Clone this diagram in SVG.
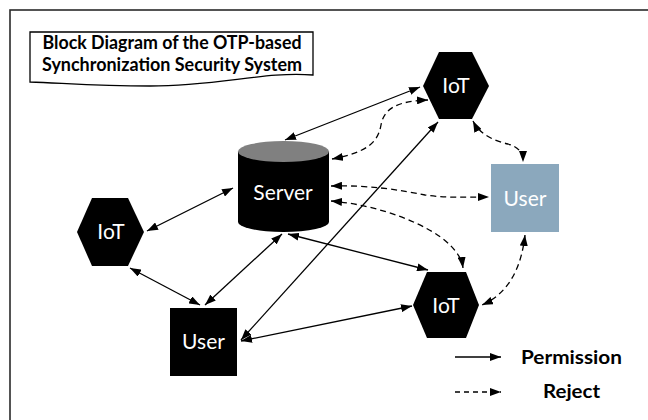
<svg xmlns="http://www.w3.org/2000/svg" width="648" height="420" viewBox="0 0 648 420">
  <defs>
    <marker id="arrow" viewBox="0 0 11 8" refX="11" refY="4" markerWidth="11" markerHeight="8" markerUnits="userSpaceOnUse" orient="auto-start-reverse">
      <path d="M0,0 L11,4 L0,8 Z" fill="#000"/>
    </marker>
    <style>
      .frame { fill: #fff; stroke: #2a2a2a; stroke-width: 1.6; }
      .doc { fill: #fff; stroke: #000; stroke-width: 1.3; }
      .title { font-family: Lato, "Liberation Sans", sans-serif; font-weight: bold; font-size: 19px; fill: #000; text-anchor: middle; }
      .hex { fill: #000; }
      .lbl { font-family: Lato, "Liberation Sans", sans-serif; font-size: 21px; fill: #fff; text-anchor: middle; }
      .solid { fill: none; stroke: #000; stroke-width: 1.3; marker-start: url(#arrow); marker-end: url(#arrow); }
      .dash { fill: none; stroke: #000; stroke-width: 1.3; stroke-dasharray: 6 4; marker-start: url(#arrow); marker-end: url(#arrow); }
      .legend { font-family: Lato, "Liberation Sans", sans-serif; font-weight: bold; font-size: 19px; fill: #000; }
    </style>
  </defs>

  <!-- outer frame -->
  <rect class="frame" x="10" y="10" width="700" height="500"/>

  <!-- title document shape -->
  <g id="title">
    <path class="doc" d="M30,32 H313 V75 C265,71 220,86 150,86 C95,86 62,83 30,82 Z"/>
    <text class="title" x="172" y="49" textLength="259" lengthAdjust="spacingAndGlyphs">Block Diagram of the OTP-based</text>
    <text class="title" x="172" y="71" textLength="260" lengthAdjust="spacingAndGlyphs">Synchronization Security System</text>
  </g>

  <!-- connectors -->
  <g id="connectors">
    <line class="solid" x1="285" y1="140" x2="420" y2="87"/>
    <path class="dash" d="M332,159 C368,152 378,142 381,125 C384,108 398,101 428,100"/>
    <line class="solid" x1="438" y1="122" x2="241" y2="340"/>
    <path class="dash" d="M473,121 C480,135 495,141 508,144 C518,147 523,152 523,162"/>
    <path class="dash" d="M331,186 C370,185 400,190 425,195 C445,198 465,197 489,197"/>
    <path class="dash" d="M331,201 C380,205 430,225 450,245 C458,253 462,260 463,268"/>
    <path class="dash" d="M525,235 C522,262 512,292 482,305"/>
    <line class="solid" x1="288" y1="234" x2="428" y2="270"/>
    <line class="solid" x1="412" y1="306" x2="241" y2="341"/>
    <line class="solid" x1="147" y1="231" x2="233" y2="188"/>
    <line class="solid" x1="130" y1="268" x2="200" y2="305"/>
    <line class="solid" x1="282" y1="234" x2="205" y2="305"/>
  </g>

  <!-- server cylinder -->
  <g id="server">
    <path d="M238,151.5 V222 A45.5,10 0 0 0 329,222 V151.5 Z" fill="#000"/>
    <ellipse cx="283.5" cy="151.5" rx="45.5" ry="10.5" fill="#808080"/>
    <text class="lbl" x="283" y="200">Server</text>
  </g>

  <g id="iot-top">
    <polygon class="hex" points="423,86 439,52 472,52 489,86 472,119 439,119"/>
    <text class="lbl" x="456" y="93">IoT</text>
  </g>

  <g id="iot-left">
    <polygon class="hex" points="77,232 92,198 128,198 144,232 128,266 92,266"/>
    <text class="lbl" x="111" y="239">IoT</text>
  </g>

  <g id="iot-bottom">
    <polygon class="hex" points="413,305 427,272 466,272 479,305 466,338 427,338"/>
    <text class="lbl" x="446" y="313">IoT</text>
  </g>

  <g id="user-black">
    <rect x="170" y="308" width="67" height="68" fill="#000"/>
    <text class="lbl" x="203.5" y="349">User</text>
  </g>

  <g id="user-gray">
    <rect x="491" y="164" width="68" height="68" fill="#8ba8bd"/>
    <text class="lbl" x="525" y="206">User</text>
  </g>

  <!-- legend -->
  <g id="legend">
    <line x1="455" y1="357" x2="501" y2="357" stroke="#000" stroke-width="1.3" marker-end="url(#arrow)"/>
    <text class="legend" x="521" y="364" textLength="101" lengthAdjust="spacingAndGlyphs">Permission</text>
    <line x1="455" y1="392" x2="501" y2="392" stroke="#000" stroke-width="1.3" stroke-dasharray="5 4" marker-end="url(#arrow)"/>
    <text class="legend" x="543" y="398" textLength="57" lengthAdjust="spacingAndGlyphs">Reject</text>
  </g>
</svg>
